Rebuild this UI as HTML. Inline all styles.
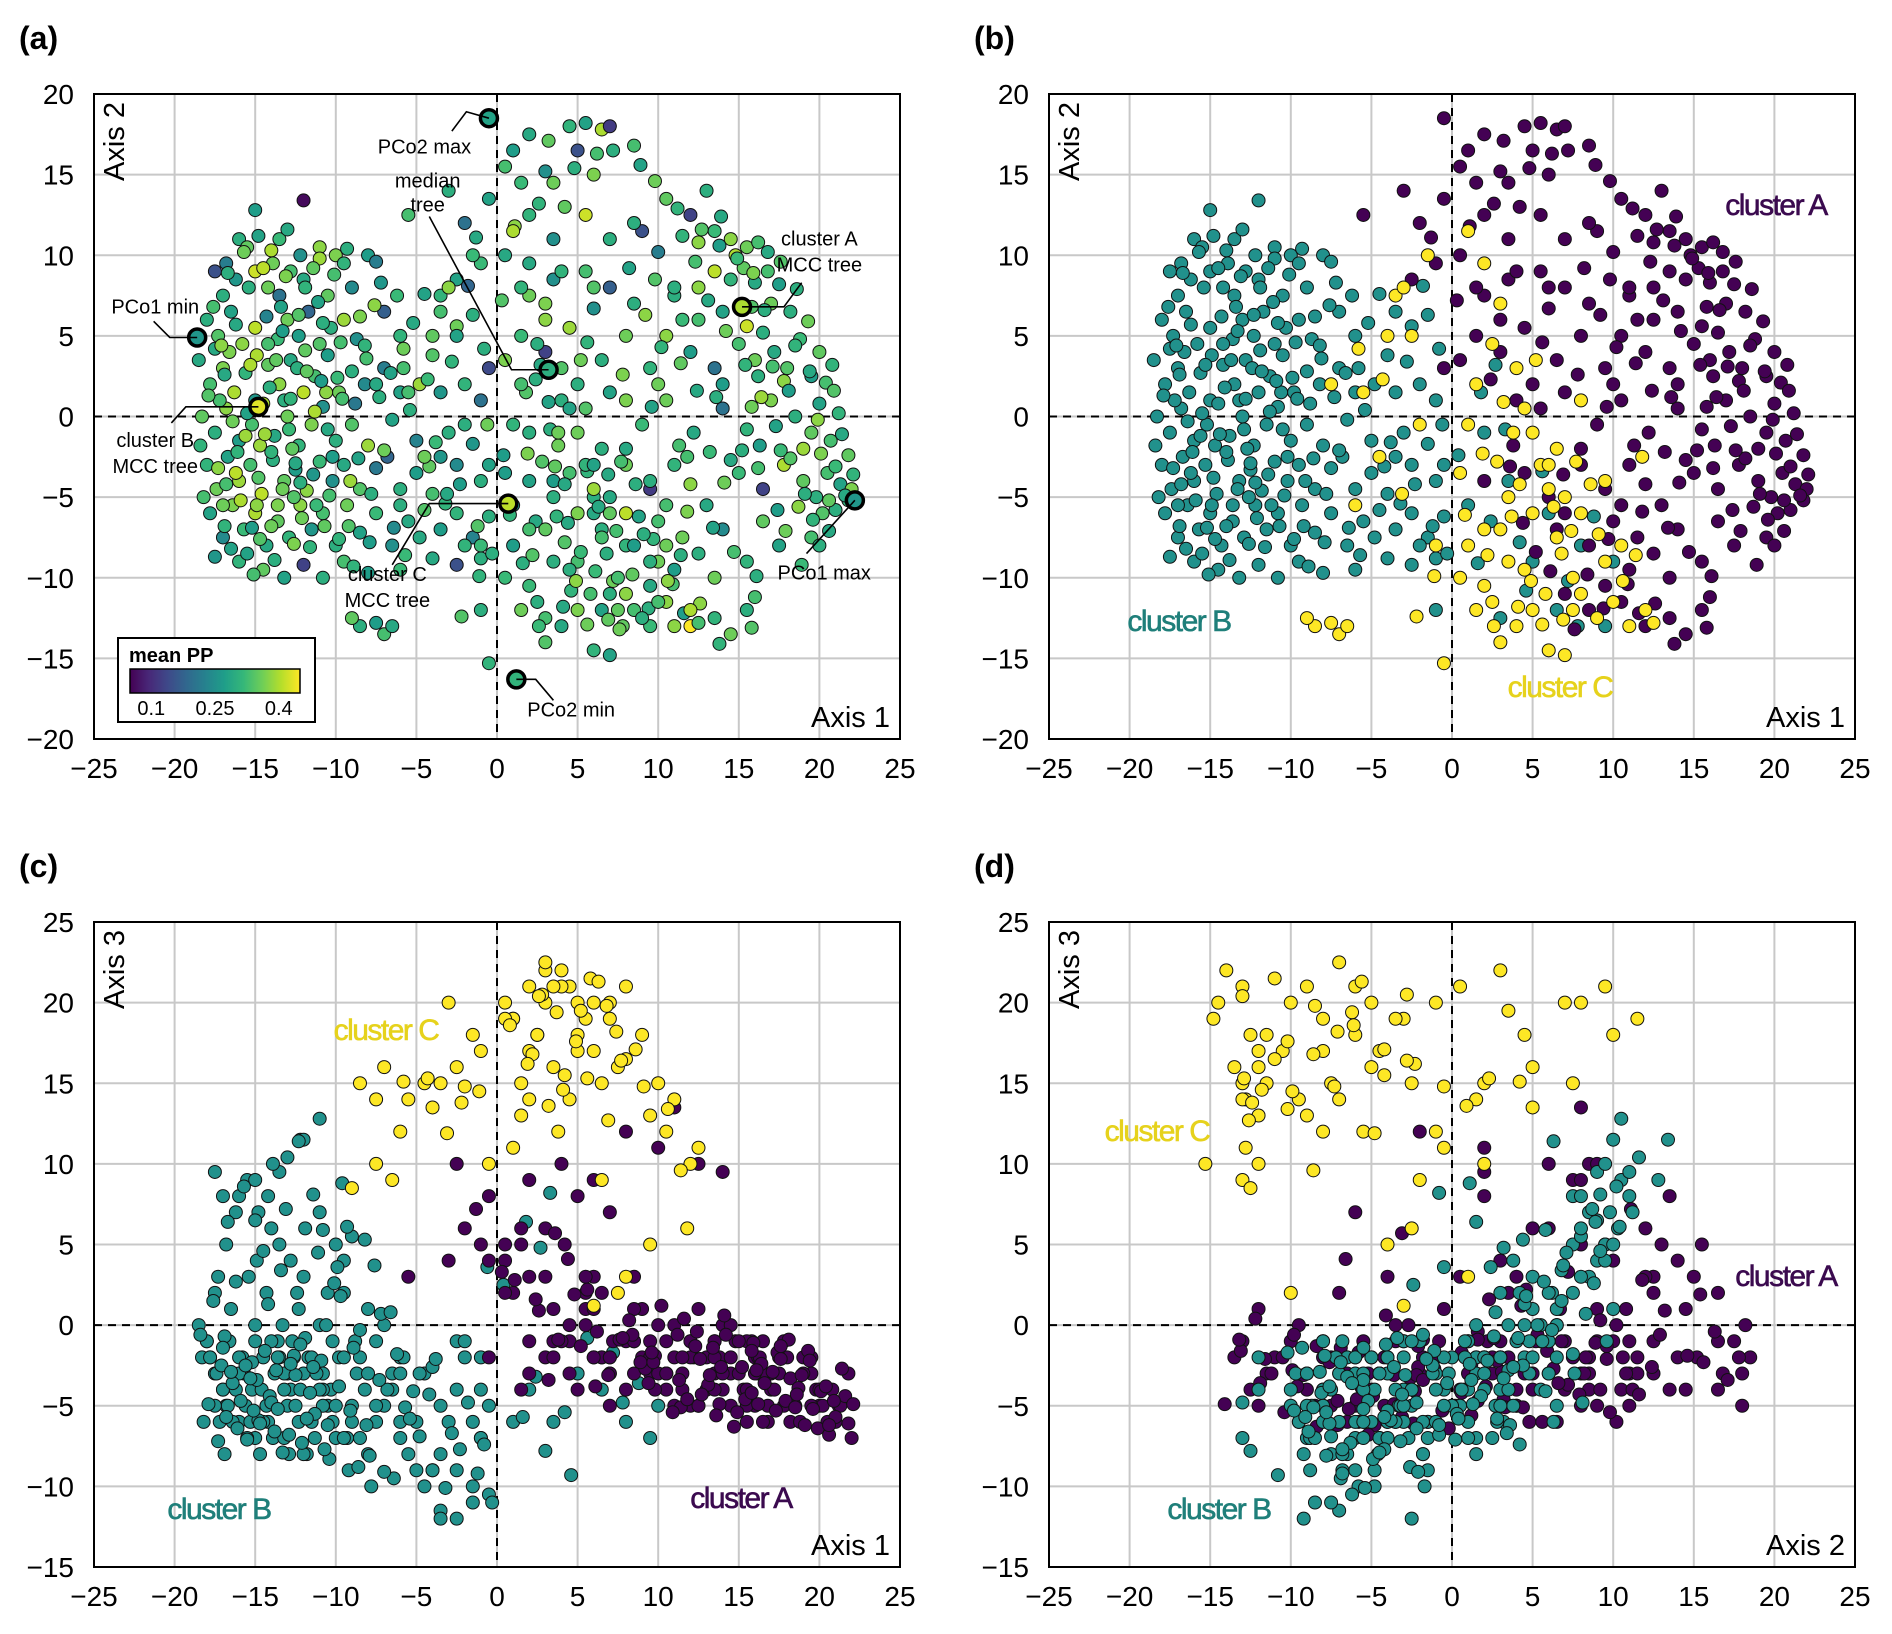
<!DOCTYPE html>
<html><head><meta charset="utf-8">
<style>
html,body{margin:0;padding:0;background:#fff;}
svg{display:block;font-family:"Liberation Sans",Arial,sans-serif;}
</style></head>
<body>
<svg id="fig" width="1892" height="1634" viewBox="0 0 1892 1634" xmlns="http://www.w3.org/2000/svg"></svg>
<script>
// [axis1, axis2, axis3, meanPP]
const clusterB = [
[-16,11,8,.30],[-15.5,10.5,9,.35],[-14.8,11.2,7,.28],[-14,10.3,6,.40],[-13.5,11,9.5,.32],[-12.2,10,11.5,.25],[-11,10.5,12.8,.38],[-16.8,9.5,5,.22],[-12,13.4,11.5,.06],[-15,12.8,9,.27],
[-17.5,9,9.5,.15],[-17,7.5,8,.30],[-16.2,8.5,7,.26],[-15,9,6.5,.42],[-14.2,8,8,.36],[-13.5,7.5,5,.20],[-12.8,9,4,.33],[-12,8.5,3,.29],[-11,9.8,7,.39],[-10,10,5,.37],[-9.5,9.5,4,.31],[-9,8,5.5,.24],[-10.5,7.5,2,.35],[-8,10,1,.27],[-7.5,9.6,-1,.22],
[-18,6,-1,.30],[-17.3,5,3,.34],[-16.5,6.5,1,.28],[-15.8,4.5,-2,.38],[-15,5.5,0,.41],[-14.3,6.2,2,.23],[-13.6,4.8,-1,.32],[-13,6,-3,.36],[-12.3,5,1,.27],[-11.7,6.5,-2,.18],[-11,4.5,0,.34],[-10.3,5.5,-4,.30],[-9.5,6,2,.39],[-8.7,4.8,-3,.25],[-7,6.5,0,.17],[-6,5,-2,.31],[-4.5,7.6,-3,.28],[-3.5,6.5,-5,.33],[-2.5,5.6,-1,.36],[-1.5,6.3,-6,.30],
[-18.5,3.5,0,.29],[-17.8,2,-2,.33],[-17,3,-4,.37],[-16.3,1.5,-3,.40],[-15.6,2.7,-5,.31],[-15,1,-1,.26],[-14.2,3.2,-6,.35],[-13.5,2,-2,.38],[-12.8,3.5,-4,.29],[-12,1.5,-3,.41],[-11.3,2.5,-7,.33],[-10.5,3.8,-5,.27],[-9.8,1.5,-2,.36],[-9,2.8,-6,.30],[-8.2,2,-4,.24],[-7,3,-5,.22],[-6,1.5,-7,.28],[-4.8,2,-3,.39],[-3.5,1.5,-8,.26],[-2,2,-2,.31],[-1,1,-4,.20],
[-18.3,0,-2,.35],[-17.5,-1,-3,.30],[-16.8,0.5,-5,.38],[-16,-1.5,-6,.27],[-15.2,-0.5,-4,.33],[-14.5,0.8,-2,.40],[-13.8,-1.2,-3,.29],[-13,0,-5,.36],[-12.3,-1.8,-6,.31],[-11.5,-0.5,-2,.37],[-10.8,0.6,-4,.25],[-10,-1.5,-7,.30],[-9,-0.5,-5,.34],[-8,-1.8,-8,.39],[-6.5,-0.2,-3,.28],[-5,-1.5,-9,.23],[-3,-1,-6,.30],[-1.5,-1.7,-10,.26],
[-18,-3,-1,.31],[-17.4,-4.5,-3,.36],[-16.7,-2.5,-5,.28],[-16,-4,-2,.39],[-15.3,-3,-6,.33],[-14.6,-4.8,-4,.41],[-13.9,-2.7,-7,.30],[-13.2,-4,-3,.35],[-12.5,-3.3,-5,.27],[-11.8,-4.6,-8,.38],[-11,-2.8,-4,.32],[-10.2,-4,-6,.25],[-9.5,-3,-2,.29],[-8.5,-4.5,-7,.34],[-7.5,-3.2,-5,.21],[-6,-4.5,-3,.30],[-5,-3.5,-6,.27],[-4,-4.8,-9,.33],[-2.5,-3,-4,.24],[-1,-4,-7,.30],
[-17.8,-6,-2,.28],[-17,-7.5,-4,.24],[-16.4,-5.5,-6,.37],[-15.7,-7,-3,.32],[-15,-6,-7,.40],[-14.3,-8,-5,.29],[-13.6,-6.5,-2,.35],[-12.9,-7.5,-8,.31],[-12.2,-5.5,-4,.38],[-11.5,-7,-6,.26],[-10.8,-6,-3,.33],[-10,-8,-5,.30],[-9.3,-5.5,-7,.36],[-8.5,-7.2,-2,.28],[-7.5,-6,-6,.32],[-6.5,-8,-4,.25],[-5.5,-6.5,-8,.29],[-4.5,-5.8,-10,.34],[-3.5,-7,-11.5,.27],[-2.5,-6,-9,.31],[-1.5,-7.5,-11,.23],[-0.5,-6.2,-10.5,.30],
[-17.5,-8.7,-5,.26],[-16,-9,-3,.31],[-14.5,-9.5,-6,.35],[-13.2,-10,-4,.28],[-12,-9.2,-8,.13],[-10.8,-10,-5,.30],[-9.5,-9,-7,.33],[-8,-9.7,-3,.27],[-6,-9.5,-6,.32],[-4,-8.8,-9,.29],[-2.5,-9.2,-12,.15],[-1,-8.8,-7,.30],
[-17.2,1,-6,.33],[-16.6,4,-1,.37],[-15.4,8,3,.30],[-14.7,-1.8,-8,.39],[-13.3,5.3,0,.27],[-12.6,-5,-2,.34],[-11.9,8,6,.31],[-14,-6.8,-1,.36],[-15.5,-8.5,-7,.28],[-16.2,-3.5,-4,.41],[-13.2,1,-7,.30],[-12.7,-2,-1,.35],[-11.2,-5.5,-3,.32],[-10.6,1.5,0,.38],[-17.5,4.2,2,.29],[-18.2,-5,-6,.33],[-16.9,-6.8,-8,.31],[-14.9,3.8,4,.40],[-13.9,9.5,10,.36],[-12.4,3,2,.30],[-10.2,-2.5,-1,.27],[-9.2,-6.8,-9,.34],[-8.8,0.8,-1,.21],[-7.8,-4.8,-10,.30],[-6.8,-2.5,-4,.18],[-5.8,3,-2,.33],[-3.5,-2.5,-12,.26],[-2,-8,-1,.31],[-0.5,-3,-5,.28],
[2,-1,-4,.30],[3.5,-4,-6,.27],[5,-9,-3,.33],[6,-6,-2,.29],[8,-8,-6,.31],[10,-9,-5,.36],[6.5,-12,-4,.28],[9.5,-13,-7,.32],[1,-5.5,-6,.25],[-1,-12,-2,.30]
];
const clusterBExtra = [
[-17.6,6.8,1.5,.33],[-17.1,4.4,-2.5,.38],[-16.9,2.6,-0.7,.29],[-16.4,-0.3,-3.6,.36],[-16.1,-2.2,-6.4,.31],[-15.9,-5.2,-4.7,.40],[-15.2,-6.9,-2.3,.27],[-14.8,-3.8,-5.9,.34],[-14.4,-1.1,-1.6,.39],[-14.1,1.8,-4.4,.30],
[-13.7,3.5,-2.8,.35],[-13.4,6.8,3.4,.28],[-13.1,8.7,7.2,.37],[-12.9,-0.8,-6.8,.32],[-12.5,-2.9,-3.1,.29],[-12.1,-6.3,-7.3,.36],[-11.6,-8.1,-4.2,.31],[-11.3,0.3,-5.5,.40],[-10.9,2.2,-2.2,.27],[-10.4,-4.9,-8.3,.33],
[-16.7,8.9,6.4,.30],[-15.7,10.2,8.6,.36],[-14.5,9.2,4.6,.41],[-13,11.6,10.4,.29],[-17.9,1.3,-4.9,.34],[-18.4,-1.8,-0.6,.31],[-17.3,-3.2,-7.2,.38],[-16.5,-8.2,-2.9,.28],[-15.1,-9.8,-5.3,.33],[-13.8,-8.9,-6.6,.30],
[-12.6,-7.9,-1.9,.37],[-11.4,-3.6,-2.6,.26],[-10.7,-6.8,-7.7,.35],[-9.8,-7.6,-3.8,.31],[-9.1,-4,-5.3,.39],[-8.6,-2.6,-8.8,.28],[-8.1,3.6,-6.2,.33],[-7.3,1.2,-3.4,.30],[-6.4,-6.9,-9.5,.24],[-5.7,-8.6,-5.1,.32],
[-4.8,-7.5,-6.9,.29],[-4.2,-3.1,-4.3,.35],[-3.2,-5.4,-10.1,.31],[-2.3,-4.2,-7.7,.27],[-1.2,-6.8,-9.2,.34],[-0.3,-8.5,-11,.30],[-14.9,-5.5,-3.4,.38],[-14.2,4.5,1.3,.33],[-15.3,3.2,-3.3,.40],[-16.2,5.7,2.7,.29],
[-13.3,-4.5,-7.9,.36],[-12.8,1.1,-2.4,.31],[-11.9,4.1,-0.8,.35],[-11.1,7.1,4.5,.28],[-10.1,8.8,2.6,.33],[-9.3,10.4,6.1,.30],[-8.5,6.2,-0.3,.37],[-7.2,8.3,0.7,.26],[-6.2,7.5,-1.8,.32],[-5.2,5.8,-4.1,.29],
[-4,3.8,-2.6,.34],[-2.8,3.4,-6.7,.31],[-1.8,8.1,-4.8,.18],[-0.8,4.2,-7.4,.30],[-17,-5.5,-1.4,.36],[-16.8,-4.2,-5.7,.33],[-15.6,-1.2,-2.5,.39],[-15.5,0.2,-7.1,.28],[-14.7,-7.6,-6.1,.34],[-14,-2.2,-4.8,.31],
[-13.6,-5.5,-5.2,.37],[-12.2,-4.1,-1.2,.30],[-11.8,2.8,-5.8,.35],[-10.5,-0.8,-6.2,.29],[-9.7,4.6,1.8,.33],[-8.9,-9.3,-1.4,.31],[-7.9,-7.8,-8.1,.27],[-7,-2.1,-9.1,.36],[-5.4,0.4,-5.8,.30],[-3.8,-1.6,-2.1,.32],
[2.4,-6.5,-3.2,.29],[4.2,-7.8,-5.4,.34],[5.6,-3.4,-0.8,.31],[7.2,-10.2,-1.7,.36],[8.8,-6.2,-3.6,.28],[3,-12.5,-7.8,.33],[1.6,-9.1,-5.7,.30],[7.8,-13,-4.8,.35],[4.6,-10.8,-9.3,.31],[0.4,-2.4,2.5,.27],
[1.8,1.5,6.4,.34],[3.3,-0.8,8.2,.30],[-0.6,-0.5,3.6,.36],[2.7,3.2,4.8,.29],[-9.6,1.1,8.8,.33],[-8.2,4.4,5.3,.31],[-7.6,6.9,3.7,.38],[-6.6,2.7,0.8,.28],[-11.4,9.2,8.1,.35],[-10.8,5.8,5.9,.30],[-12.3,6.3,11.4,.34],[-9.9,2.4,3.6,.32]
];
const clusterA = [
[-0.5,18.5,-2,.30],[1,16.5,2,.27],[0.5,15.5,5,.33],[2,17.5,-1,.29],[3.5,14.5,1,.36],[4.5,18,-3,.31],[5.5,18.2,0,.28],[5,16.5,-4,.15],[6.5,17.8,-2,.40],[7,18,-5,.12],[7.2,16.5,-1,.30],[8.5,16.8,-3,.33],[6,15,3,.37],[3,15.2,-2,.25],[1.5,14.5,-4,.32],
[-3,14,4,.30],[-5.5,12.5,3,.33],[-2,12,6,.20],[-0.5,13.5,8,.28],[2,12.5,-3,.31],[3.5,11,-1,.25],[5.5,12.5,2,.42],[7,11,-3,.30],[9,11.5,-2,.15],[10.5,13.5,-4,.35],[12,12.5,-1,.13],[13.5,11.5,-3,.32],[14.5,11,-5,.38],[13,14,-2,.30],[15.5,10.5,-4,.36],[16.2,10.8,-3,.33],[16.8,10.2,-6,.29],[14.8,10,-1,.40],[13.8,10.6,-2,.27],[12.5,10.8,1,.38],[11.5,11.2,-4,.31],[10,10.2,0,.22],[8.5,12,3,.30],[4.2,13,5,.35],
[-2.5,8.5,10,.28],[-1,9.5,5,.32],[0.5,10,4,.29],[2,7.5,9,.36],[3.5,8.5,-2,.25],[5.5,9,1,.33],[7,8,-3,.17],[8.5,7,-1,.30],[9.8,8.5,-4,.34],[11,7.5,-2,.30],[12.5,8,-5,.38],[13.5,9,-1,.41],[14.5,8.5,-3,.31],[15.3,9.2,-4,.35],[16,8.3,-2,.29],[16.8,9,-5,.33],[17.5,8.2,-3,.27],[17,7,-4,.36],[18.2,6.5,-6,.30],[15.8,6.8,-1,.34],[14,6.5,0,.28],[11.5,6,-3,.32],[6,6.7,1,.25],
[0.5,3.5,2,.37],[1.5,5,6,.32],[3,4,3,.13],[4.5,5.5,-1,.39],[6.5,3.5,-2,.30],[8,5,-4,.36],[9.5,3,-1,.31],[10.5,5,-3,.38],[12,4,-5,.27],[13.5,3,-2,.20],[15,4.5,-3,.33],[16,3.5,-5,.36],[16.5,5.2,-1,.30],[17.2,4,-4,.29],[18,3,-2,.34],[18.8,4.8,-6,.32],[19.5,2.5,-3,.27],[20,4,-5,.35],[20.8,3.2,-4,.31],[17.8,2.2,-1,.38],[16.2,2.5,-2,.30],[15.5,5.6,-6,.42],
[4,1,-1,.30],[5.5,0.5,3,.34],[7,1.5,-2,.28],[9,-0.5,1,.32],[10.5,1,-3,.36],[12.2,-1,-2,.29],[14,0.5,-4,.20],[15.5,-0.8,-1,.31],[17,1,-3,.37],[18.5,0,-5,.30],[19.5,-1,-2,.35],[20,0.8,-4,.28],[20.7,-1.5,-6,.33],[19,-2,-3,.39],[21.2,0.2,-5,.31],[16.3,-1.8,-2,.27],
[2,-4,3,.28],[4.5,-3.5,0,.33],[6,-5,-2,.30],[8,-3,-1,.36],[9.5,-4.5,-3,.12],[11,-3,-5,.31],[12,-4.2,-2,.38],[13,-5.5,-4,.29],[15,-3.5,-1,.32],[16.5,-4.5,-3,.13],[17.8,-3,-5,.40],[19,-4,-2,.35],[19.8,-5,-4,.30],[20.5,-3.5,-6,.33],[21.3,-4.2,-5,.28],[21.8,-5.2,-3,.31],[22,-4.5,-7,.37],[21,-5.8,-6,.30],[20.2,-6,-5,.34],[14.5,-2.7,0,.29],[10.5,-5.5,-1,.33],
[6.5,-7,2,.30],[8.5,-8,-1,.27],[10,-6.5,-3,.33],[11.5,-7.5,-2,.36],[12.5,-8.5,-5,.30],[14,-7,-3,.24],[15.5,-9,-4,.31],[16.5,-6.5,-6,.35],[17.5,-8,-2,.28],[19.5,-7.5,-5,.33],[20,-8,-4,.30],[13.5,-10,-1,.36],[11,-9.5,0,.27],
[7,-11,-2,.30],[8.5,-12,1,.33],[10.5,-11.5,-3,.38],[12,-13,-1,.45],[13.5,-12.5,-4,.31],[14.5,-13.5,-2,.36],[15.5,-12,-5,.30],[16,-11.2,-3,.33],[9.5,-10.5,-2,.29],
[4,9,10,.31],[6,8,9,.34],[8,-2,12,.29],[10,2,11,.36],[11,8,13.5,.30],[12.5,6,10,.33],[14,2,9.5,.27],[3,6,6,.38],[5,2,8,.30],[7,-6,7,.35],[-0.5,3,4,.14],[1.5,8,5,.31]
];
const clusterAExtra = [
[12.3,9.6,-1.3,.33],[13.1,7.2,-3.7,.29],[14.2,5.3,-0.6,.36],[15.4,3.2,-4.6,.31],[16.4,1.2,-2.4,.39],[17.3,-0.6,-5.3,.28],[18.2,-2.6,-3.3,.34],[19.1,-4.8,-6.2,.30],[20.1,-2.3,-4.1,.37],[21,-3.1,-5.7,.32],
[21.6,-4.9,-4.4,.29],[20.6,-5.2,-6.8,.35],[19.6,-6.4,-5.2,.31],[18.7,-5.6,-3.9,.38],[17.4,-5.8,-1.7,.27],[16.2,-3.2,-4.9,.33],[15.2,-2.1,-2.6,.30],[14.1,-4.1,0.6,.36],[13.2,-2.2,-3.1,.32],[12.4,1.6,-0.4,.29],
[11.4,3.3,-5.1,.35],[10.2,4.3,1.2,.31],[9.2,6.3,-2.7,.38],[8.2,9.2,0.3,.28],[17.6,9.6,-2.1,.34],[18.6,7.9,-4.3,.30],[19.3,5.9,-1.6,.36],[20.4,2.1,-3.8,.33],[21.4,-1.1,-2.7,.29],[21.8,-2.4,-6.1,.35],
[22.1,-3.6,-4.9,.31],[19.9,-0.2,-6.4,.38],[18.1,1.6,-0.9,.27],[17.1,3.1,-2.9,.33],[16.6,6.6,-3.6,.30],[15.9,8.9,-1.1,.37],[14.9,9.8,-5.4,.32],[13.9,12.4,-2.6,.29],[12.7,11.6,-4.3,.34],[11.2,12.9,-0.6,.31],
[9.8,14.6,-1.9,.36],[8.9,15.6,-2.3,.28],[6.2,16.3,-0.4,.33],[4.8,15.4,1.9,.30],[3.2,17.1,-3.4,.35],[2.6,13.2,0.9,.31],[1.1,11.8,2.8,.38],[-1.3,11.1,7.2,.29],[0.3,7.2,3.3,.34],[2.4,2.3,1.6,.30],
[3.8,-1.8,-0.9,.36],[5.2,-8.4,-1.3,.32],[6.9,-3.6,-3.1,.29],[8.4,-9.8,-0.6,.35],[9.7,-7.6,-2.3,.31],[11.8,-5.9,-4.6,.37],[13.4,-6.9,-1.4,.28],[14.7,-8.4,-6.3,.33],[16.1,-9.9,-2.8,.30],[17.9,-7.1,-4.7,.36],
[18.9,-9.2,-3.1,.32],[20.6,-7.1,-6.2,.29],[15.8,-13.1,-1.6,.34],[13.8,-14.1,-4.9,.31],[12.6,-11.6,-2.1,.38],[11.6,-12.2,0.4,.27],[10.9,-10.4,-5.4,.33],[9.4,-11.9,-3.6,.30],[7.6,-13.2,-0.9,.36],[6.1,-9.6,-3.8,.32],
[4.4,-6.6,4.1,.29],[3.6,-3.1,5.7,.35],[5.6,4.6,2.2,.31],[7.8,2.6,-0.8,.37],[9.6,0.6,-1.7,.28],[11.3,-1.8,-3.4,.33],[13.6,1.2,-5.6,.30],[15.8,0.6,-4.2,.36],[17.6,-2.1,-1.3,.32],[19.4,2.8,-2.2,.29],
[20.9,1.6,-4.7,.34],[18.5,4.4,-5.1,.31]
];
const clusterC = [
[-8.5,-13,15,.30],[-7.5,-12.8,14,.27],[-7,-13.5,16,.33],[-6.5,-13,9,.29],[-9,-12.5,8.5,.35],[-3.5,7.5,15,.31],[-3,8,20,.38],[-2.5,5,16,.28],[-5.5,1.5,14,.33],[-6,-5.5,12,.30],[-4.5,-2.5,15,.36],[-1.5,10,18,.32],[1,11.5,19,.40],[2,9.5,21,.29],[1.5,2,15,.33],[3,7,20,.37],[2.5,4.5,18,.30],[4,3,22,.34],[4.5,0.5,21,.28],[5,-1,20,.36],
[5.5,-3,19,.31],[6,-4.5,17,.39],[3.5,-5,16,.30],[2,-7,14,.33],[1,-8,19,.27],[0.5,-10,20,.32],[1.5,-12,13,.36],[2.5,-11.5,18,.30],[3,-14,22,.34],[4,-13,21,.29],[5,-12,17,.37],[6,-14.5,20,.31],[7,-14.8,19,.28],[7.5,-12,16,.35],[9,-12.5,18,.30],[10,-11.5,15,.33],[11,-13,14,.38],[12,-12,10,.40],[12.5,-12.8,11,.33],[9.5,-9,13,.30],
[10.5,-8,12,.36],[8,-6,21,.41],[7,-5,20,.29],[6.5,-7.5,15,.33],[5,-6,18,.37],[3.5,-9,21,.30],[2,-10.5,17,.32],[0.5,-3.5,19,.27],[-0.5,-15.3,10,.31],[3,-7,22.5,.35],[4.5,-9.5,14,.30],[5.8,-11,21.5,.33],[8,-11,16.5,.38],[6.8,-8.5,19.8,.30],[2.8,-2.8,20.5,.34],[4.2,-4.2,15.5,.29],[5.2,3.5,19.5,.36],[1,-0.5,11,.31],[11.8,-2.5,6,.33],[9.5,-4,5,.30],
[8,1,3,.37],[6,-3,1.2,.28],[7.5,-10,2,.33],[-2,-0.5,14.8,.30],[-4,5,13.5,.35],[-7.5,2,10,.29],[-1,-8,17,.32],[3.8,-1,12,.36],[6.5,-2,9,.30],
[2.2,-8.6,16.8,.34],[3.7,-6.2,19.4,.31],[4.9,-10.2,17.6,.38],[6.3,-5.6,21.3,.29],[7.4,-7.1,18.2,.33],[8.6,-4.2,17.1,.30],[5.6,-12.9,15.3,.36],[2.6,-13,20.4,.32],[4.1,-11.8,14.6,.29],[6.9,-12.6,12.7,.35],
[0.8,-6.1,18.6,.31],[1.9,-2.3,16.2,.37],[3.2,0.9,13.6,.28],[7.7,-2.8,16.4,.33],[9.1,-7.3,14.8,.30],[-5.8,4.2,15.1,.36],[-4.3,2.3,15.3,.32],[-3.1,-4.8,11.9,.29],[-2.2,-12.4,13.8,.34],[-1.1,-9.9,14.5,.31],
[10.6,-10.2,13.4,.38],[11.4,-8.6,9.6,.30]
];
const highlighted = [
  {name:'pco2-max', a1:-0.5, a2:18.5, pp:.28},
  {name:'median-tree', a1:3.2, a2:2.9, pp:.30},
  {name:'cluster-a-mcc', a1:15.2, a2:6.8, pp:.40},
  {name:'pco1-min', a1:-18.6, a2:4.9, pp:.26},
  {name:'cluster-b-mcc', a1:-14.8, a2:0.6, pp:.43},
  {name:'cluster-c-mcc', a1:0.7, a2:-5.4, pp:.41},
  {name:'pco1-max', a1:22.2, a2:-5.2, pp:.26},
  {name:'pco2-min', a1:1.2, a2:-16.3, pp:.31}
];
const xTicks = [-25,-20,-15,-10,-5,0,5,10,15,20,25];
const yTicksTop = [-20,-15,-10,-5,0,5,10,15,20];
const yTicksBot = [-15,-10,-5,0,5,10,15,20,25];
const ppTicks = [0.1,0.25,0.4];

const NS='http://www.w3.org/2000/svg';
const svg=document.getElementById('fig');
function el(tag,attrs,parent){const e=document.createElementNS(NS,tag);for(const k in attrs)e.setAttribute(k,attrs[k]);(parent||svg).appendChild(e);return e;}
const VIR=['#440154','#482878','#3e4989','#31688e','#26828e','#1f9e89','#35b779','#6ece58','#b5de2b','#fde725'];
function hex2rgb(h){return [parseInt(h.substr(1,2),16),parseInt(h.substr(3,2),16),parseInt(h.substr(5,2),16)];}
function viridis(t){t=Math.max(0,Math.min(1,t));const f=t*(VIR.length-1);const i=Math.min(Math.floor(f),VIR.length-2);const r=f-i;const a=hex2rgb(VIR[i]),b=hex2rgb(VIR[i+1]);return 'rgb('+a.map((v,k)=>Math.round(v+(b[k]-v)*r)).join(',')+')';}
function ppColor(p){return viridis((p-0.05)/0.4);}
const CCOL={A:'#440154',B:'#21918c',C:'#fde725'};

function makePanel(id,L,T,xDom,yDom,yTicks,xTitle,yTitle){
  const W=806,H=645;
  const g=el('g',{});
  
  
  const sx=v=>L+(v-xDom[0])/(xDom[1]-xDom[0])*W;
  const sy=v=>T+H-(v-yDom[0])/(yDom[1]-yDom[0])*H;
  const lt=el('text',{x:L-75,y:T-45,'font-size':32,'font-weight':'bold'},g);lt.textContent='('+id+')';
  
  const grid=el('g',{stroke:'#c8c8c8','stroke-width':2},g);
  
  xTicks.forEach(v=>el('line',{x1:sx(v),x2:sx(v),y1:T,y2:T+H},grid));
  yTicks.forEach(v=>el('line',{x1:L,x2:L+W,y1:sy(v),y2:sy(v)},grid));
  const zx=el('line',{x1:sx(0),x2:sx(0),y1:T,y2:T+H,stroke:'#000','stroke-width':2,'stroke-dasharray':'8,6'},g);
  
  const zy=el('line',{x1:L,x2:L+W,y1:sy(0),y2:sy(0),stroke:'#000','stroke-width':2,'stroke-dasharray':'8,6'},g);
  
  const xt=el('g',{'font-size':28,'text-anchor':'middle'},g);
  
  xTicks.forEach(v=>{const t=el('text',{x:sx(v),y:T+H+39},xt);t.textContent=(v<0?'\u2212'+(-v):v);});
  const yt=el('g',{'font-size':28,'text-anchor':'end'},g);
  
  yTicks.forEach(v=>{const t=el('text',{x:L-20,y:sy(v)+10},yt);t.textContent=(v<0?'\u2212'+(-v):v);});
  const pts=el('g',{},g);
  
  const xt2=el('text',{x:L+W-10,y:T+H-12,'font-size':29,'text-anchor':'end'},g);xt2.textContent=xTitle;
  
  const yt2=el('text',{x:0,y:0,'font-size':29,'text-anchor':'end',transform:'translate('+(L+30)+','+(T+8)+') rotate(-90)'},g);yt2.textContent=yTitle;
  
  const fr=el('rect',{x:L,y:T,width:W,height:H,fill:'none',stroke:'#000','stroke-width':2},g);
  
  return {g,pts,sx,sy,L,T,W,H};
}
function dot(p,x,y,fill,r){const c=el('circle',{cx:x,cy:y,r:r||6.5,fill:fill,stroke:'#111','stroke-width':1},p.pts);
  
  return c;}
function label(p,x,y,txt,col,name,size){const t=el('text',{x:x,y:y,'font-size':size||30,fill:col,'text-anchor':'middle','letter-spacing':'-1.5','stroke':col,'stroke-width':0.6},p.g);t.textContent=txt;
  
  return t;}

const all=[...clusterB.map(d=>[...d,'B']),...clusterBExtra.map(d=>[...d,'B']),...clusterA.map(d=>[...d,'A']),...clusterAExtra.map(d=>[...d,'A']),...clusterC.map(d=>[...d,'C'])];
const orderD=[...clusterA.map(d=>[...d,'A']),...clusterAExtra.map(d=>[...d,'A']),...clusterC.map(d=>[...d,'C']),...clusterB.map(d=>[...d,'B']),...clusterBExtra.map(d=>[...d,'B'])];
// Panel a
const pa=makePanel('a',94,94,[-25,25],[-20,20],yTicksTop,'Axis 1','Axis 2');
all.forEach(d=>dot(pa,pa.sx(d[0]),pa.sy(d[1]),ppColor(d[3])));
const ann=el('g',{stroke:'#000','stroke-width':1.6,fill:'none'},pa.g);

function poly(ptsArr){el('polyline',{points:ptsArr.map(q=>pa.sx(q[0])+','+pa.sy(q[1])).join(' ')},ann);}
poly([[-0.5,18.5],[-1.9,18.9],[-2.8,17.7]]);
poly([[3.2,2.9],[0.9,2.9],[-4.2,12.4]]);
poly([[15.2,6.8],[17.8,6.8],[18.9,8.3]]);
poly([[-18.6,4.9],[-20.3,4.9],[-21.3,5.9]]);
poly([[-14.8,0.6],[-19.3,0.6],[-20.2,-0.4]]);
poly([[0.7,-5.4],[-4.2,-5.4],[-6.5,-9.2]]);
poly([[22.2,-5.2],[19.2,-8.5]]);
poly([[1.2,-16.3],[2.4,-16.3],[3.5,-17.6]]);
highlighted.forEach(h=>{const c=el('circle',{cx:pa.sx(h.a1),cy:pa.sy(h.a2),r:8.5,fill:ppColor(h.pp),stroke:'#000','stroke-width':3.5},pa.pts);
  
  });
function annText(x,y,txt,name){const t=el('text',{x:pa.sx(x),y:pa.sy(y),'font-size':20,'text-anchor':'middle'},pa.g);t.textContent=txt;
  
  }
annText(-4.5,16.3,'PCo2 max','pco2-max-label');
annText(-4.3,14.2,'median','median-tree-label');annText(-4.3,12.7,'tree','median-tree-label-2');
annText(20,10.6,'cluster A','cluster-a-mcc-label');annText(20,9.0,'MCC tree','cluster-a-mcc-label-2');
annText(-21.2,6.4,'PCo1 min','pco1-min-label');
annText(-21.2,-1.9,'cluster B','cluster-b-mcc-label');annText(-21.2,-3.5,'MCC tree','cluster-b-mcc-label-2');
annText(-6.8,-10.2,'cluster C','cluster-c-mcc-label');annText(-6.8,-11.8,'MCC tree','cluster-c-mcc-label-2');
annText(20.3,-10.1,'PCo1 max','pco1-max-label');
annText(4.6,-18.6,'PCo2 min','pco2-min-label');
const lg=el('g',{},pa.g);

el('rect',{x:118,y:638,width:197,height:84,fill:'#fff',stroke:'#000','stroke-width':2},lg);
const lt=el('text',{x:129,y:662,'font-size':20,'font-weight':'bold'},lg);lt.textContent='mean PP';
const defs=el('defs',{});const gr=el('linearGradient',{id:'vg',x1:0,x2:1,y1:0,y2:0},defs);
VIR.forEach((c,i)=>el('stop',{offset:(i/(VIR.length-1)),'stop-color':c},gr));
el('rect',{x:130,y:669,width:170,height:24,fill:'url(#vg)',stroke:'#000','stroke-width':1.5},lg);
const cbx=v=>130+(v-0.05)/0.4*170;
ppTicks.forEach(v=>{const t=el('text',{x:cbx(v),y:715,'font-size':20,'text-anchor':'middle'},lg);t.textContent=String(v);});

// Panel b
const pb=makePanel('b',1049,94,[-25,25],[-20,20],yTicksTop,'Axis 1','Axis 2');
all.forEach(d=>dot(pb,pb.sx(d[0]),pb.sy(d[1]),CCOL[d[4]]));
label(pb,1776,215,'cluster A','#3b0a4f','cluster-a-label');
label(pb,1179,631,'cluster B','#1f7f7a','cluster-b-label');
label(pb,1560,697,'cluster C','#e6d21c','cluster-c-label');

// Panel c
const pc=makePanel('c',94,922,[-25,25],[-15,25],yTicksBot,'Axis 1','Axis 3');
all.forEach(d=>dot(pc,pc.sx(d[0]),pc.sy(d[2]),CCOL[d[4]]));
label(pc,386,1040,'cluster C','#e6d21c','cluster-c-label');
label(pc,219,1519,'cluster B','#1f7f7a','cluster-b-label');
label(pc,741,1508,'cluster A','#3b0a4f','cluster-a-label');

// Panel d
const pd=makePanel('d',1049,922,[-25,25],[-15,25],yTicksBot,'Axis 2','Axis 3');
orderD.forEach(d=>dot(pd,pd.sx(d[1]),pd.sy(d[2]),CCOL[d[4]]));
label(pd,1157,1141,'cluster C','#e6d21c','cluster-c-label');
label(pd,1786,1286,'cluster A','#3b0a4f','cluster-a-label');
label(pd,1219,1519,'cluster B','#1f7f7a','cluster-b-label');
</script>
</body></html>
